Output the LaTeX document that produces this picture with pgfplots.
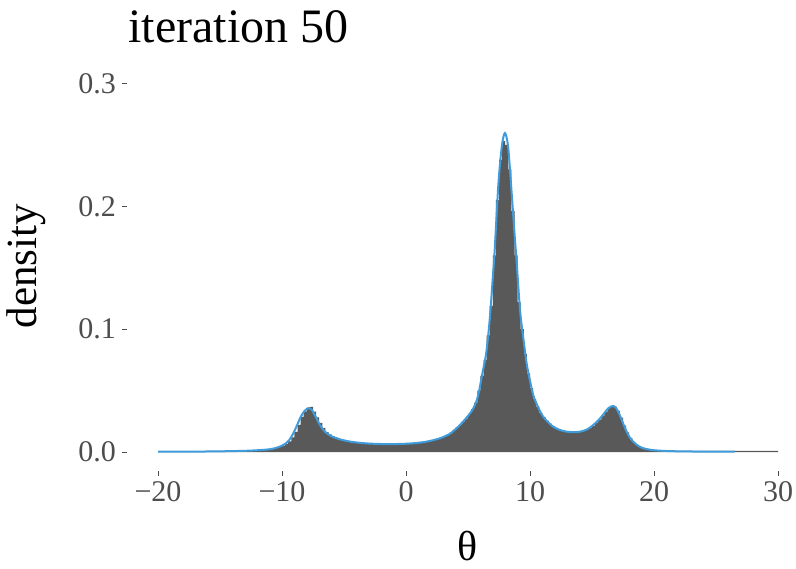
\documentclass[border=0pt]{standalone}
\usepackage{pgfplots}
\pgfplotsset{compat=1.18}
\usepackage{fontspec}
\setmainfont{Liberation Serif}
\definecolor{histgray}{HTML}{595959}
\definecolor{curveblue}{HTML}{3F9BDA}
\definecolor{tickgray}{HTML}{4D4D4D}
\begin{document}
\begin{tikzpicture}
\begin{axis}[
    at={(0,0)}, anchor=south west,
    scale only axis,
    width=341pt, height=202.75pt,
    xmin=-22.5, xmax=32.5,
    ymin=-0.015, ymax=0.315,
    axis line style={draw=none},
    tick align=outside,
    tick pos=left,
    major tick length=2.5pt,
    tick style={draw=tickgray, line width=0.5pt},
    xtick={-20,-10,0,10,20,30},
    xticklabels={−20,−10,0,10,20,30},
    ytick={0,0.1,0.2,0.3},
    yticklabels={0.0,0.1,0.2,0.3},
    ticklabel style={font=\fontsize{15}{15}\selectfont, text=tickgray},
    xticklabel style={yshift=0.5pt},
    yticklabel style={xshift=0.5pt},
    clip=false,
  ]
  % histogram (bin starts, density)
  \addplot[fill=histgray, draw=none, const plot] coordinates {
      (-20,0.0008) (-16,0.0009) (-14,0.0010) (-13,0.0011)
      (-12.00,0.0013) (-11.75,0.0014) (-11.50,0.0016) (-11.25,0.0019)
      (-11.00,0.0022) (-10.75,0.0026) (-10.50,0.0033) (-10.25,0.0042)
      (-10.00,0.0053) (-9.75,0.0066) (-9.50,0.0088) (-9.25,0.0120)
      (-9.00,0.0165) (-8.75,0.0222) (-8.50,0.0287) (-8.25,0.0332)
      (-8.00,0.0362) (-7.75,0.0368) (-7.50,0.0330) (-7.25,0.0283)
      (-7.00,0.0238) (-6.75,0.0196) (-6.50,0.0163) (-6.25,0.0145)
      (-6.00,0.0130) (-5.75,0.0118) (-5.50,0.0108) (-5.25,0.0100)
      (-5.00,0.0094) (-4.75,0.0089) (-4.50,0.0085) (-4.25,0.0081)
      (-4.00,0.0078) (-3.75,0.0075) (-3.50,0.0073) (-3.25,0.0071)
      (-3.00,0.0069) (-2.75,0.0068) (-2.50,0.0067) (-2.25,0.0066)
      (-2.00,0.0066) (-1.75,0.0065) (-1.50,0.0067) (-1.25,0.0064)
      (-1.00,0.0066) (-0.75,0.0067) (-0.50,0.0066) (-0.25,0.0068)
      (0.00,0.0069) (0.25,0.0071) (0.50,0.0072) (0.75,0.0074)
      (1.00,0.0077) (1.25,0.0080) (1.50,0.0083) (1.75,0.0087)
      (2.00,0.0094) (2.25,0.0100) (2.50,0.0108) (2.75,0.0117)
      (3.00,0.0128) (3.25,0.0140) (3.50,0.0158) (3.75,0.0180)
      (4.00,0.0200) (4.25,0.0222) (4.50,0.0250) (4.75,0.0275)
      (5.00,0.0310) (5.25,0.0350) (5.50,0.0400) (5.75,0.0500)
      (6.00,0.0620) (6.25,0.0750) (6.50,0.0950) (6.75,0.1190)
      (7.00,0.1600) (7.25,0.2050) (7.50,0.2380) (7.75,0.2530)
      (8.00,0.2500) (8.25,0.2300) (8.50,0.1960) (8.75,0.1600)
      (9.00,0.1220) (9.25,0.1000) (9.50,0.0800) (9.75,0.0640)
      (10.00,0.0520) (10.25,0.0430) (10.50,0.0370) (10.75,0.0320)
      (11.00,0.0285) (11.25,0.0256) (11.50,0.0232) (11.75,0.0212)
      (12.00,0.0196) (12.25,0.0184) (12.50,0.0175) (12.75,0.0169)
      (13.00,0.0164) (13.25,0.0162) (13.50,0.0160) (13.75,0.0164)
      (14.00,0.0168) (14.25,0.0175) (14.50,0.0184) (14.75,0.0198)
      (15.00,0.0215) (15.25,0.0238) (15.50,0.0265) (15.75,0.0295)
      (16.00,0.0330) (16.25,0.0358) (16.50,0.0376) (16.75,0.0370)
      (17.00,0.0335) (17.25,0.0280) (17.50,0.0215) (17.75,0.0160)
      (18.00,0.0115) (18.25,0.0082) (18.50,0.0058) (18.75,0.0042)
      (19.00,0.0031) (19.25,0.0024) (19.50,0.0019) (19.75,0.0016)
      (20.00,0.0013) (20.25,0.0011) (20.50,0.0010) (20.75,0.0009)
      (21,0.0009) (30,0.0009)
    } \closedcycle;
  % density curve
  \addplot[curveblue, line width=1pt, smooth] coordinates {
      (-20,0.0003) (-17,0.0004) (-15,0.0006) (-13.5,0.0009)
      (-12.5,0.0012) (-11.5,0.0018) (-11,0.0023) (-10.5,0.0033)
      (-10,0.0052) (-9.7,0.0070) (-9.4,0.0100) (-9.1,0.0150)
      (-8.8,0.0215) (-8.5,0.0285) (-8.2,0.0333) (-7.95,0.0354)
      (-7.8,0.0357) (-7.6,0.0345) (-7.35,0.0300) (-7.1,0.0250)
      (-6.8,0.0198) (-6.5,0.0163) (-6.2,0.0140) (-5.85,0.0122)
      (-5.3,0.0103) (-4.5,0.0085) (-3.5,0.0073) (-2.5,0.0067)
      (-1.5,0.0065) (-0.5,0.0066) (0.5,0.0071) (1.5,0.0082)
      (2.2,0.0097) (2.8,0.0114) (3.3,0.0136) (3.6,0.0152)
      (4.0,0.0187) (4.35,0.0220) (4.8,0.0270) (5.16,0.0315)
      (5.45,0.0360) (5.7,0.0420) (5.9,0.0500) (6.1,0.0610)
      (6.3,0.0710) (6.5,0.0830) (6.77,0.1100) (7.0,0.1420)
      (7.15,0.1640) (7.45,0.2180) (7.73,0.2490) (7.98,0.2596)
      (8.23,0.2490) (8.47,0.2180) (8.75,0.1780) (8.9,0.1580)
      (9.2,0.1150) (9.46,0.0930) (9.73,0.0720) (10.0,0.0580)
      (10.27,0.0460) (10.7,0.0355) (11.07,0.0287) (11.5,0.0240)
      (11.88,0.0206) (12.4,0.0180) (12.96,0.0166) (13.5,0.0162)
      (14.03,0.0166) (14.6,0.0184) (15.1,0.0220) (15.6,0.0268)
      (16.0,0.0318) (16.3,0.0355) (16.55,0.0371) (16.72,0.0375)
      (16.95,0.0358) (17.2,0.0310) (17.5,0.0235) (17.8,0.0165)
      (18.05,0.0118) (18.33,0.0084) (18.7,0.0052) (19.14,0.0031)
      (19.7,0.0019) (20.5,0.0011) (22,0.0006) (24,0.0004)
      (26.5,0.0003)
    };
\end{axis}
\node[anchor=base west, inner sep=0pt, font=\fontsize{24}{24}\selectfont] at (0.5pt,213.75pt) {iteration 50};
\node[anchor=base, inner sep=0pt, font=\fontsize{21}{21}\selectfont] at (170.5pt,-45pt) {θ};
\node[anchor=base, rotate=90, inner sep=0pt, font=\fontsize{21.5}{21.5}\selectfont] at (-45.2pt,102.25pt) {density};
\pgfresetboundingbox
\path[use as bounding box] (-63.5pt,-48.75pt) rectangle (334.5pt,235.25pt);
\end{tikzpicture}
\end{document}
